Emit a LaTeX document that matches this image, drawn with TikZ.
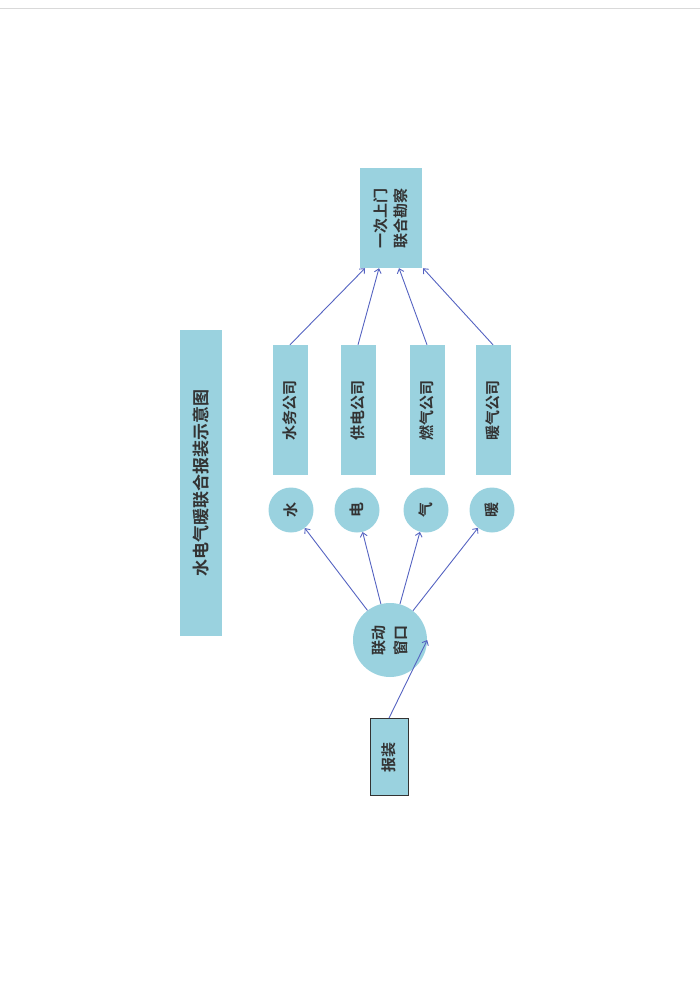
\documentclass[tikz,border=0pt]{standalone}
\usepackage{fontspec}
\newfontfamily\cjk{Noto Sans CJK SC Bold}
\usetikzlibrary{arrows.meta}
\definecolor{boxblue}{HTML}{9AD2DF}
\definecolor{arrowblue}{HTML}{5563C1}
\tikzset{
  panel/.style={fill=boxblue, rotate=90, inner sep=0pt, align=center, font=\cjk\fontsize{15}{20}\selectfont, text=black!80},
  bubble/.style={circle, fill=boxblue, inner sep=0pt, font=\cjk\fontsize{15}{18}\selectfont, text=black!80, rotate=90},
  link/.style={arrowblue, line width=0.9pt, -{Straight Barb[length=4pt,width=7pt]}}
}
\begin{document}
\begin{tikzpicture}[x=1pt,y=-1pt]
                \useasboundingbox (0,0) rectangle (700,990);
                \draw[gray!30] (0,8) -- (700,8);

                % title
                \node[panel, minimum width=306, minimum height=42, font=\cjk\fontsize{17}{20}\selectfont] (title) at (201,483) {水电气暖联合报装示意图};

                % survey box
                \node[panel, minimum width=100, minimum height=62] (survey) at (391,218) {一次上门\\联合勘察};

                % companies
                \node[panel, minimum width=130, minimum height=35] (water) at (290,410) {水务公司};
                \node[panel, minimum width=130, minimum height=35] (power) at (358,410) {供电公司};
                \node[panel, minimum width=130, minimum height=35] (gas) at (427,410) {燃气公司};
                \node[panel, minimum width=130, minimum height=35] (heat) at (493,410) {暖气公司};

                % circles
                \node[bubble, minimum size=45] (w) at (291,510) {水};
                \node[bubble, minimum size=45] (p) at (357,510) {电};
                \node[bubble, minimum size=45] (g) at (426,510) {气};
                \node[bubble, minimum size=45] (h) at (492,510) {暖};

                \node[bubble, minimum size=74, align=center, font=\cjk\fontsize{15}{22}\selectfont] (window) at (390,640) {联动\\窗口};
                \node[panel, draw=black!80, line width=0.8pt, minimum width=77, minimum height=38] (apply) at (389,757) {报装};

                % arrows
                \draw[link] (apply.east) -- (window.south);
                \foreach \c in {w,p,g,h}
                    \draw[link] (window) -- (\c);
                \draw[link] (water.east) -- ([xshift=-26]survey.west);
                \draw[link] (power.east) -- ([xshift=-12]survey.west);
                \draw[link] (gas.east) -- ([xshift=8]survey.west);
                \draw[link] (heat.east) -- ([xshift=32]survey.west);
\end{tikzpicture}
\end{document}
